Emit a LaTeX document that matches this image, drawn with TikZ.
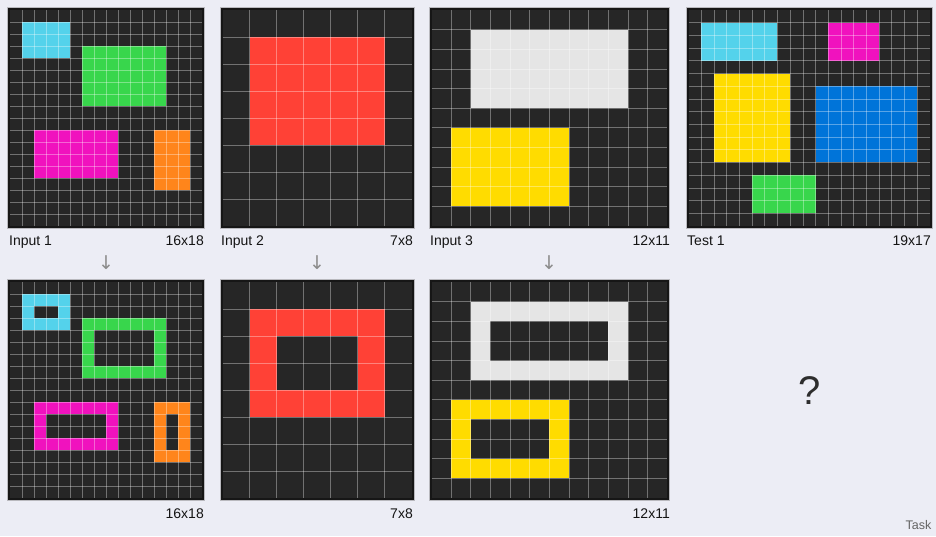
\documentclass[tikz,border=0pt]{standalone}
\usepackage{fontspec}
\setmainfont{Liberation Sans}
\newfontfamily\symfont{DejaVu Sans}
\definecolor{bgcol}{RGB}{236,237,245}
\definecolor{cellbg}{RGB}{38,38,38}
\definecolor{framecol}{RGB}{22,22,22}
\definecolor{frameout}{RGB}{185,185,190}
\definecolor{labelcol}{RGB}{20,20,20}
\definecolor{arrowcol}{RGB}{140,140,140}
\definecolor{qcol}{RGB}{45,45,45}
\definecolor{taskcol}{RGB}{100,100,100}
\definecolor{arcazure}{RGB}{84,210,235}
\definecolor{arcgreen}{RGB}{56,214,76}
\definecolor{arcmagenta}{RGB}{240,18,190}
\definecolor{arcorange}{RGB}{255,133,27}
\definecolor{arcred}{RGB}{255,65,54}
\definecolor{arcwhite}{RGB}{229,229,229}
\definecolor{arcyellow}{RGB}{255,220,0}
\definecolor{arcblue}{RGB}{0,116,217}
\newcommand\gridpanel[6]{%
  \path[panelframe] ({#1-2.5},{#2-2.5}) rectangle ({#1+#3*#5+2.5},{#2+#4*#5+2.5});
  \begin{scope}[shift={(#1pt,-#2pt)}, x=#5pt, y=-#5pt]
    \fill[cellbg] (0,0) rectangle (#3,#4);
    #6
    \pgfmathtruncatemacro\gpC{#3-1}
    \pgfmathtruncatemacro\gpR{#4-1}
    \foreach \i in {1,...,\gpC} {\draw[gridln] (\i,0) -- (\i,#4);}
    \foreach \j in {1,...,\gpR} {\draw[gridln] (0,\j) -- (#3,\j);}
  \end{scope}
}
\begin{document}
\begin{tikzpicture}[x=1pt,y=-1pt,
  panelframe/.style={fill=framecol, draw=frameout, line width=0.8pt},
  gridln/.style={draw=white, draw opacity=0.35, line width=0.7pt},
  lbl/.style={font=\fontsize{14}{16}\selectfont, text=labelcol, inner sep=0pt},
  downarrow/.style={font=\symfont\fontsize{19}{20}\selectfont, text=arrowcol, inner sep=0pt},
  qmark/.style={font=\fontsize{40}{44}\selectfont, text=qcol, inner sep=0pt},
  tasklbl/.style={font=\fontsize{12.5}{14}\selectfont, text=taskcol, inner sep=0pt}]
\useasboundingbox (0,0) rectangle (936,536);
\fill[bgcol] (0,0) rectangle (936,536);

% ---------- Input 1 ----------
\gridpanel{10}{10}{16}{18}{12}{%
  \fill[arcazure] (1,1) rectangle (5,4);
  \fill[arcgreen] (6,3) rectangle (13,8);
  \fill[arcmagenta] (2,10) rectangle (9,14);
  \fill[arcorange] (12,10) rectangle (15,15);
}
% ---------- Output 1 ----------
\gridpanel{10}{282}{16}{18}{12}{%
  \fill[arcazure] (1,1) rectangle (5,4);
  \fill[cellbg] (2,2) rectangle (4,3);
  \fill[arcgreen] (6,3) rectangle (13,8);
  \fill[cellbg] (7,4) rectangle (12,7);
  \fill[arcmagenta] (2,10) rectangle (9,14);
  \fill[cellbg] (3,11) rectangle (8,13);
  \fill[arcorange] (12,10) rectangle (15,15);
  \fill[cellbg] (13,11) rectangle (14,14);
}
% ---------- Input 2 ----------
\gridpanel{222.5}{10}{7}{8}{27}{%
  \fill[arcred] (1,1) rectangle (6,5);
}
% ---------- Output 2 ----------
\gridpanel{222.5}{282}{7}{8}{27}{%
  \fill[arcred] (1,1) rectangle (6,5);
  \fill[cellbg] (2,2) rectangle (5,4);
}
% ---------- Input 3 ----------
\gridpanel{431.5}{10}{12}{11}{19.636}{%
  \fill[arcwhite] (2,1) rectangle (10,5);
  \fill[arcyellow] (1,6) rectangle (7,10);
}
% ---------- Output 3 ----------
\gridpanel{431.5}{282}{12}{11}{19.636}{%
  \fill[arcwhite] (2,1) rectangle (10,5);
  \fill[cellbg] (3,2) rectangle (9,4);
  \fill[arcyellow] (1,6) rectangle (7,10);
  \fill[cellbg] (2,7) rectangle (6,9);
}
% ---------- Test 1 ----------
\gridpanel{688.5}{10}{19}{17}{12.706}{%
  \fill[arcazure] (1,1) rectangle (7,4);
  \fill[arcmagenta] (11,1) rectangle (15,4);
  \fill[arcyellow] (2,5) rectangle (8,12);
  \fill[arcblue] (10,6) rectangle (18,12);
  \fill[arcgreen] (5,13) rectangle (10,16);
}

% ---------- labels ----------
\node[lbl, anchor=base west] (lin1) at (9,245) {Input 1};
\node[lbl, anchor=base east] (sin1) at (204,245) {16x18};
\node[lbl, anchor=base west] (lin2) at (221,245) {Input 2};
\node[lbl, anchor=base east] (sin2) at (413,245) {7x8};
\node[lbl, anchor=base west] (lin3) at (430,245) {Input 3};
\node[lbl, anchor=base east] (sin3) at (670,245) {12x11};
\node[lbl, anchor=base west] (lt1) at (687,245) {Test 1};
\node[lbl, anchor=base east] (st1) at (931,245) {19x17};

\node[lbl, anchor=base east] (sout1) at (204,518) {16x18};
\node[lbl, anchor=base east] (sout2) at (413,518) {7x8};
\node[lbl, anchor=base east] (sout3) at (670,518) {12x11};

% ---------- arrows ----------
\node[downarrow] (arr1) at (106,263) {↓};
\node[downarrow] (arr2) at (317,263) {↓};
\node[downarrow] (arr3) at (549,263) {↓};

% ---------- unknown output ----------
\node[qmark] (q) at (809.5,391) {?};
\node[tasklbl, anchor=base east] (task) at (931.5,529) {Task};
\end{tikzpicture}
\end{document}
